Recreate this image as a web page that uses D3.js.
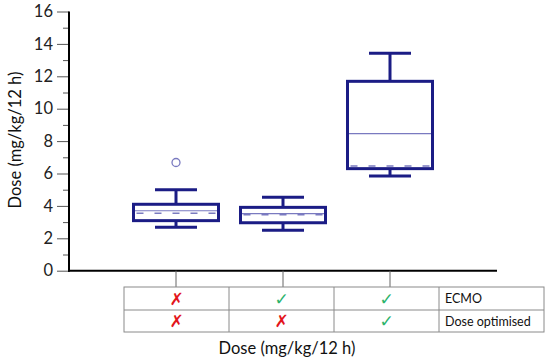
<!DOCTYPE html>
<html>
<head>
<meta charset="utf-8">
<script src="https://cdn.jsdelivr.net/npm/d3@7"></script>
<style>
  body { margin: 0; background: #fff; }
  svg { font-family: Lato, "Open Sans", sans-serif; }
</style>
</head>
<body>
<svg id="chart" width="550" height="360"></svg>
<script>
// groups along x (positions 1..3)
const groups = [1, 2, 3];
const whiskerLow  = [2.68, 2.49, 5.85];
const q1          = [3.09, 2.96, 6.30];
const median      = [3.70, 3.52, 8.46];
const mean        = [3.54, 3.45, 6.46];
const q3          = [4.10, 3.91, 11.69];
const whiskerHigh = [5.00, 4.53, 13.42];
const outliers    = [[6.68], [], []];

const yTicks = [0, 2, 4, 6, 8, 10, 12, 14, 16];
const yMinor = [1, 3, 5, 7, 9, 11, 13, 15];

const rowLabels = ["ECMO", "Dose optimised"];
const ecmo      = [false, true, true];
const optimised = [false, false, true];

const navy = "#1b1c85";
const light = "#7a7ac0";

const svg = d3.select("#chart");

const x = d3.scaleLinear().domain([0, 4]).range([69, 497]);
const y = d3.scaleLinear().domain([0, 16]).range([270.7, 11.5]);

// y axis major
const yAxis = svg.append("g")
    .attr("transform", "translate(69,0)")
    .call(d3.axisLeft(y).tickValues(yTicks).tickSize(12).tickPadding(4).tickFormat(d3.format("d")));
yAxis.select(".domain").remove();
yAxis.selectAll("line").attr("stroke", "#555").attr("stroke-width", 1);
yAxis.selectAll("text").attr("font-size", 16.5).attr("fill", "#222")
    .attr("font-family", "Lato, sans-serif");

// minor ticks
const yMinAxis = svg.append("g")
    .attr("transform", "translate(69,0)")
    .call(d3.axisLeft(y).tickValues(yMinor).tickSize(6).tickFormat(""));
yMinAxis.select(".domain").remove();
yMinAxis.selectAll("line").attr("stroke", "#555").attr("stroke-width", 1);

// axis lines
svg.append("line")
    .attr("x1", 69).attr("x2", 69)
    .attr("y1", y(16)).attr("y2", y(0) + 1)
    .attr("stroke", "#000").attr("stroke-width", 2);
svg.append("line")
    .attr("x1", 68).attr("x2", x(4))
    .attr("y1", y(0)).attr("y2", y(0))
    .attr("stroke", "#000").attr("stroke-width", 2);

// x ticks (down into the table)
svg.selectAll(".xtick").data(groups).join("line")
    .attr("x1", d => x(d)).attr("x2", d => x(d))
    .attr("y1", y(0)).attr("y2", 287)
    .attr("stroke", "#666").attr("stroke-width", 1);

// y title
svg.append("text")
    .attr("transform", "translate(21,140) rotate(-90)")
    .attr("text-anchor", "middle")
    .attr("font-size", 16.5)
    .attr("fill", "#111")
    .text("Dose (mg/kg/12 h)");

// boxes
const boxW = 85, capW = 42;
const bx = svg.append("g");
groups.forEach((g, i) => {
  const cx = x(g);
  // whiskers
  bx.append("line").attr("x1", cx).attr("x2", cx)
    .attr("y1", y(whiskerHigh[i])).attr("y2", y(q3[i]))
    .attr("stroke", navy).attr("stroke-width", 3);
  bx.append("line").attr("x1", cx).attr("x2", cx)
    .attr("y1", y(q1[i])).attr("y2", y(whiskerLow[i]))
    .attr("stroke", navy).attr("stroke-width", 3);
  [whiskerHigh[i], whiskerLow[i]].forEach(v => {
    bx.append("line").attr("x1", cx - capW / 2).attr("x2", cx + capW / 2)
      .attr("y1", y(v)).attr("y2", y(v))
      .attr("stroke", navy).attr("stroke-width", 3);
  });
  // box
  bx.append("rect")
    .attr("x", cx - boxW / 2).attr("y", y(q3[i]))
    .attr("width", boxW).attr("height", y(q1[i]) - y(q3[i]))
    .attr("fill", "#fff").attr("stroke", navy).attr("stroke-width", 3);
  // median
  bx.append("line").attr("x1", cx - boxW / 2 + 1.5).attr("x2", cx + boxW / 2 - 1.5)
    .attr("y1", y(median[i])).attr("y2", y(median[i]))
    .attr("stroke", light).attr("stroke-width", 1.2);
  // mean
  bx.append("line").attr("x1", cx - boxW / 2 + 3).attr("x2", cx + boxW / 2 - 1.5)
    .attr("y1", y(mean[i])).attr("y2", y(mean[i]))
    .attr("stroke", light).attr("stroke-width", 1.5)
    .attr("stroke-dasharray", "7,11");
  // outliers
  outliers[i].forEach(v => {
    bx.append("circle").attr("cx", cx).attr("cy", y(v)).attr("r", 4)
      .attr("fill", "none").attr("stroke", light).attr("stroke-width", 1.3);
  });
});

// table beneath
const colX = [124, 229, 334, 439, 544];
const rowY = [287, 310, 332];
const tbl = svg.append("g");
tbl.append("rect").attr("x", colX[0]).attr("y", rowY[0])
  .attr("width", colX[4] - colX[0]).attr("height", rowY[2] - rowY[0])
  .attr("fill", "none").attr("stroke", "#8a8a8a").attr("stroke-width", 1);
colX.slice(1, 4).forEach(cx => {
  tbl.append("line").attr("x1", cx).attr("x2", cx).attr("y1", rowY[0]).attr("y2", rowY[2])
    .attr("stroke", "#8a8a8a").attr("stroke-width", 1);
});
tbl.append("line").attr("x1", colX[0]).attr("x2", colX[4]).attr("y1", rowY[1]).attr("y2", rowY[1])
  .attr("stroke", "#8a8a8a").attr("stroke-width", 1);

[ecmo, optimised].forEach((row, r) => {
  row.forEach((ok, c) => {
    tbl.append("text")
      .attr("x", (colX[c] + colX[c + 1]) / 2)
      .attr("y", (rowY[r] + rowY[r + 1]) / 2 + 6)
      .attr("text-anchor", "middle")
      .attr("font-family", "DejaVu Sans, sans-serif")
      .attr("font-size", 17)
      .attr("fill", ok ? "#2bb36b" : "#e3151b")
      .text(ok ? "\u2713" : "\u2717");
  });
  tbl.append("text")
    .attr("x", colX[3] + 6)
    .attr("y", (rowY[r] + rowY[r + 1]) / 2 + 4.5)
    .attr("font-size", 12.5)
    .attr("fill", "#111")
    .text(rowLabels[r]);
});

// x title
svg.append("text")
  .attr("x", 287).attr("y", 354)
  .attr("text-anchor", "middle")
  .attr("font-size", 16.5)
  .attr("fill", "#111")
  .text("Dose (mg/kg/12 h)");
</script>
</body>
</html>
